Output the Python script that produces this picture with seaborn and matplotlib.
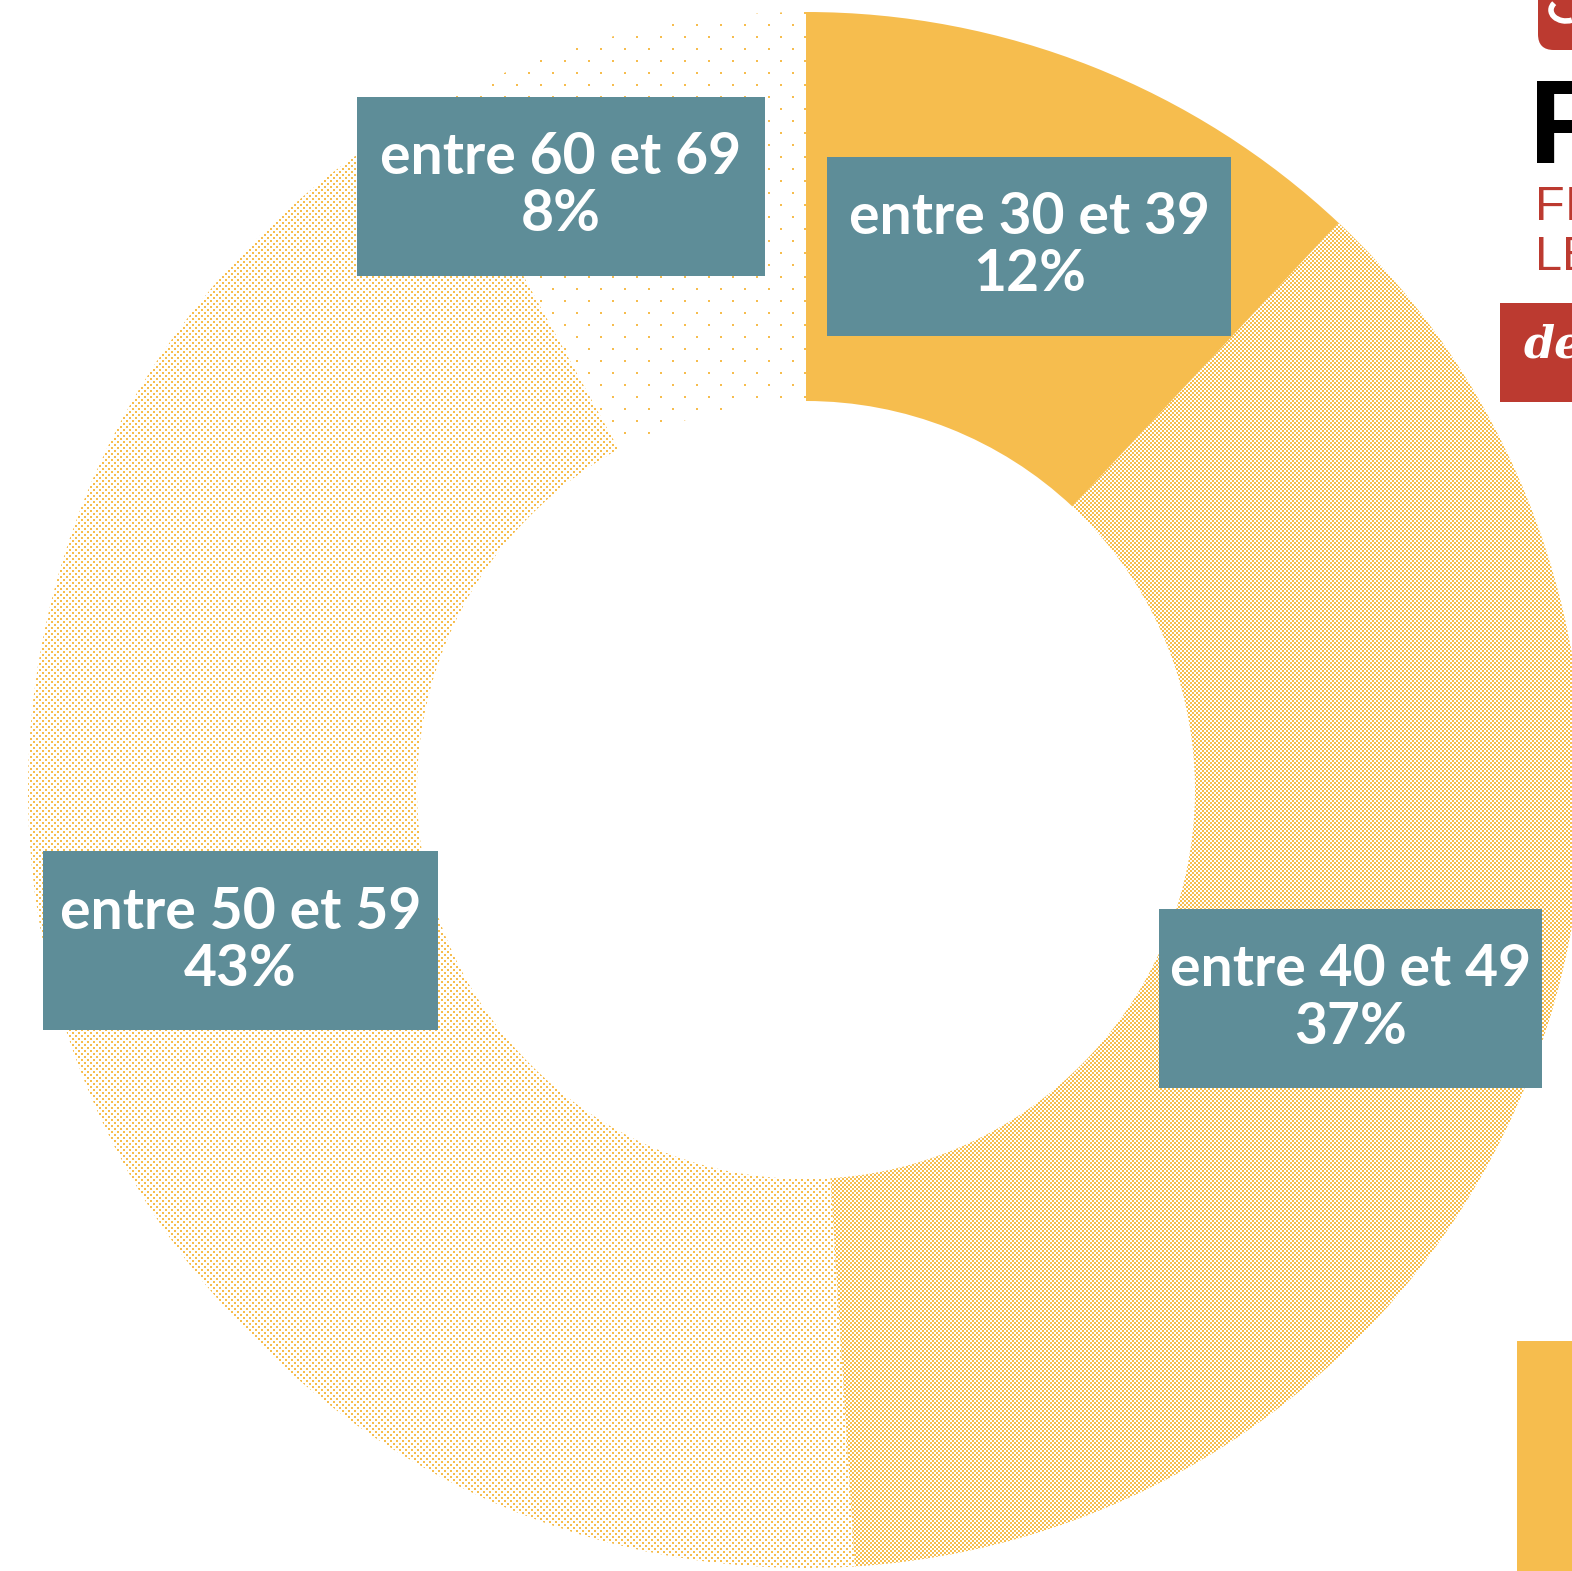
import numpy as np
import matplotlib
matplotlib.use("Agg")
import matplotlib.pyplot as plt
from matplotlib.patches import Rectangle, FancyBboxPatch, Arc
import seaborn as sns

# data
groups = ["entre 30 et 39", "entre 40 et 49", "entre 50 et 59", "entre 60 et 69"]
shares = [12, 37, 43, 8]
textures = ["solid", "checker", "fine", "sparse"]

# where the label boxes sit (pie units, centre of the box) and their width in px
label_x = [0.287, 0.700, -0.727, -0.315]
label_y = [0.699, -0.268, -0.194, 0.776]
label_w = [404, 383, 395, 408]

YELLOW = "#F6BD4E"
TEAL = "#5E8D98"
RED = "#BC3A30"

W, H = 1572, 1571
DPI = 100
SCALE = 778          # pixels per pie unit
CX, CY = 806, 790    # pie centre in pixels (from top left)

sns.set_theme(style="white")
plt.rcParams["font.family"] = ["Lato", "DejaVu Sans"]

fig = plt.figure(figsize=(W / DPI, H / DPI), dpi=DPI)
fig.patch.set_facecolor("white")
ax = fig.add_axes([0, 0, 1, 1])
xmin, xmax = -CX / SCALE, (W - CX) / SCALE
ymin, ymax = -(H - CY) / SCALE, CY / SCALE

wedges, _ = ax.pie(shares, startangle=90, counterclock=False, radius=1,
                   colors=[YELLOW if t == "solid" else "none" for t in textures],
                   wedgeprops=dict(width=0.5, linewidth=0, edgecolor="none"))

# pixel textures, clipped to each wedge
rr, cc = np.mgrid[0:H, 0:W]
rgb = np.array(matplotlib.colors.to_rgb(YELLOW))


def make_texture(kind):
    if kind == "checker":
        mask = ((rr // 2) + (cc // 2)) % 2 == 0
    elif kind == "fine":
        mask = ((rr % 6 < 2) & (cc % 6 < 2)) | \
               ((rr % 6 >= 3) & (rr % 6 < 5) & (cc % 6 >= 3) & (cc % 6 < 5))
    else:
        mask = ((rr % 24 < 2) & (cc % 24 < 2)) | \
               ((rr % 24 >= 12) & (rr % 24 < 14) & (cc % 24 >= 12) & (cc % 24 < 14))
    img = np.zeros((H, W, 4))
    img[..., :3] = rgb
    img[..., 3] = mask.astype(float)
    return img


for wedge, kind in zip(wedges, textures):
    if kind == "solid":
        continue
    im = ax.imshow(make_texture(kind), extent=(xmin, xmax, ymin, ymax), origin="upper",
                   interpolation="nearest", aspect="auto", zorder=1)
    im.set_clip_path(wedge)

ax.set_xlim(xmin, xmax)
ax.set_ylim(ymin, ymax)
ax.set_aspect("auto")
ax.axis("off")

# label boxes
for g, s, x, y, w in zip(groups, shares, label_x, label_y, label_w):
    ax.text(x, y, f"{g}\n{s}%", ha="center", va="center", ma="center",
            color="white", fontsize=41, fontweight="bold", linespacing=1.1, zorder=4)
    bw = w / SCALE
    bh = 179 / SCALE
    ax.add_patch(Rectangle((x - bw / 2, y - bh / 2), bw, bh, facecolor=TEAL,
                           edgecolor="none", zorder=3))


# cut-off branding on the right edge (figure pixel coords)
def fx(px):
    return px / W


def fy(py):
    return 1 - py / H


fig.add_artist(FancyBboxPatch((fx(1538), fy(50)), fx(80), 70 / H,
                              boxstyle="round,pad=0,rounding_size=0.01",
                              transform=fig.transFigure, facecolor=RED, edgecolor="none"))
fig.add_artist(Arc((fx(1566), fy(10)), fx(30), 22 / H, theta1=150, theta2=300,
                   transform=fig.transFigure, color="white", lw=4))
fig.text(fx(1529), fy(163), "F", color="black", fontsize=86, fontweight="bold",
         family=["Liberation Sans", "DejaVu Sans"], va="baseline", ha="left")
fig.text(fx(1535), fy(220), "FI", color=RED, fontsize=35,
         family=["Liberation Sans", "DejaVu Sans"], va="baseline", ha="left")
fig.text(fx(1535), fy(270), "LE", color=RED, fontsize=35,
         family=["Liberation Sans", "DejaVu Sans"], va="baseline", ha="left")
fig.add_artist(Rectangle((fx(1500), fy(402)), fx(80), 99 / H,
                         transform=fig.transFigure, facecolor=RED, edgecolor="none"))
fig.text(fx(1524), fy(358), "de", color="white", fontsize=32, fontweight="bold",
         style="italic", family=["DejaVu Serif"], va="baseline", ha="left")
fig.add_artist(Rectangle((fx(1517), 0), fx(60), (1571 - 1341) / H,
                         transform=fig.transFigure, facecolor=YELLOW, edgecolor="none"))

fig.savefig("out.png", dpi=DPI, facecolor="white")
